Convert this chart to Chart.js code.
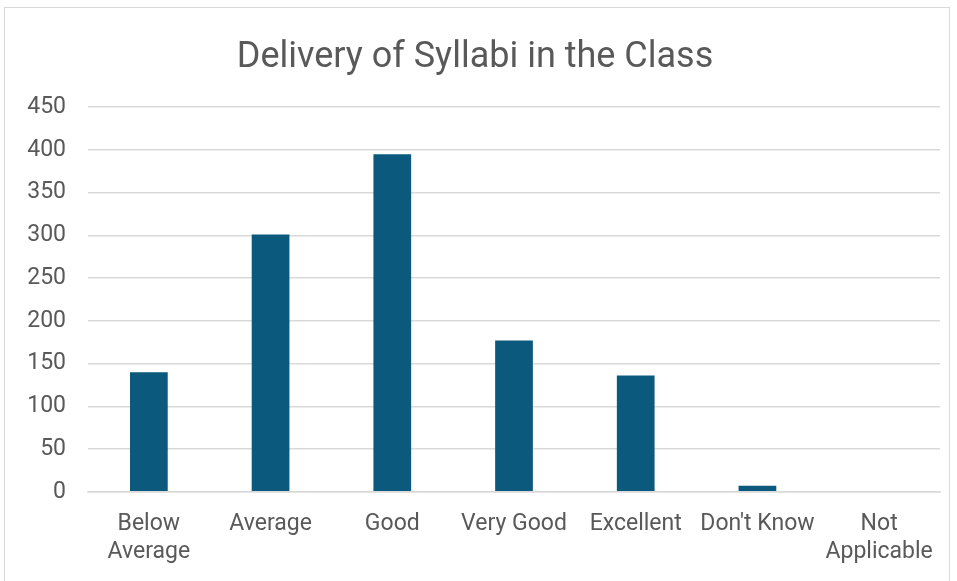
<!DOCTYPE html>
<html>
<head>
<meta charset="utf-8">
<script src="https://cdn.jsdelivr.net/npm/chart.js@4/dist/chart.umd.min.js"></script>
<style>
  html, body { margin: 0; padding: 0; background: #ffffff; }
  #wrap { position: relative; width: 957px; height: 581px; }
  #frame { position: absolute; left: 4px; top: 7px; width: 946px; height: 580px; border: 1px solid #d9d9d9; box-sizing: border-box; }
  canvas { position: absolute; left: 0; top: 0; }
</style>
</head>
<body>
<div id="wrap">
  <div id="frame"></div>
  <canvas id="myChart" width="957" height="581"></canvas>
</div>
<script>
const categories = [["Below", "Average"], "Average", "Good", "Very Good", "Excellent", "Don't Know", ["Not", "Applicable"]];
const responses = [140, 301, 395, 177, 136, 7, 0];
const yTicks = [0, 50, 100, 150, 200, 250, 300, 350, 400, 450];

const fontFamily = "Roboto, 'Liberation Sans', sans-serif";

const ctx = document.getElementById("myChart").getContext("2d");
const chart = new Chart(ctx, {
  type: "bar",
  data: {
    labels: categories,
    datasets: [
      {
        label: "Responses",
        backgroundColor: "#0b5a7e",
        data: responses,
        categoryPercentage: 1,
        barPercentage: 0.31,
      },
    ],
  },
  options: {
    responsive: false,
    animation: false,
    layout: { padding: { left: 10, right: 17, top: 20, bottom: -4 } },
    plugins: {
      legend: { display: false },
      tooltip: { enabled: false },
      title: {
        display: true,
        text: "Delivery of Syllabi in the Class",
        color: "#595959",
        font: { family: fontFamily, size: 36, weight: "normal" },
        padding: { top: 16, bottom: 28 },
      },
    },
    scales: {
      x: {
        grid: { display: false, drawTicks: false },
        border: { color: "#d9d9d9", width: 1.5 },
        ticks: {
          color: "#595959",
          font: { family: fontFamily, size: 23 },
          padding: 19,
          maxRotation: 0,
          autoSkip: false,
        },
      },
      y: {
        min: 0,
        max: yTicks[yTicks.length - 1],
        afterBuildTicks: (axis) => {
          axis.ticks = yTicks.map((v) => ({ value: v }));
        },
        afterFit: (axis) => {
          axis.width = 78;
        },
        grid: { color: "#d9d9d9", lineWidth: 1.5, drawTicks: false },
        border: { display: false },
        ticks: {
          color: "#595959",
          font: { family: fontFamily, size: 23 },
          padding: 22,
        },
      },
    },
  },
});
</script>
</body>
</html>
